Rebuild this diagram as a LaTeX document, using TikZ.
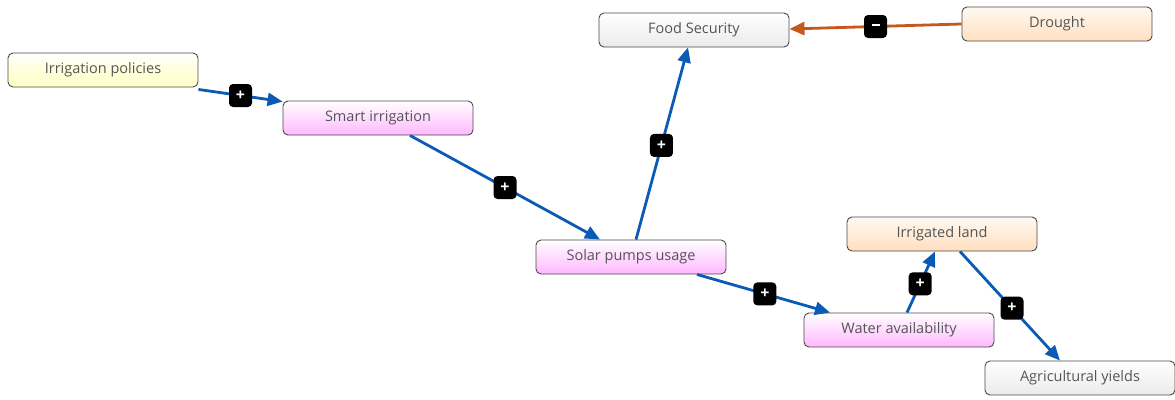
\documentclass[tikz,border=0pt]{standalone}
\usepackage{fontspec}
\setmainfont{Open Sans}
\usetikzlibrary{arrows.meta}
\definecolor{txt}{HTML}{555555}
\definecolor{edgeblue}{HTML}{0B5BB5}
\definecolor{edgeorange}{HTML}{C5581C}
\definecolor{boxline}{HTML}{4A4A4A}
\tikzset{
  box/.style={draw=boxline, line width=0.9pt, rounded corners=5pt, minimum width=190pt, minimum height=34pt, inner sep=0pt, text=txt, font=\fontsize{14.5}{16}\selectfont},
  yellowbox/.style={box, top color=white, bottom color=yellow!22, middle color=yellow!14},
  pinkbox/.style={box, top color=white, bottom color=magenta!28},
  greybox/.style={box, top color=white, bottom color=black!8},
  peachbox/.style={box, top color=white!60!orange!12, bottom color=orange!25},
  link/.style={line width=2.8pt, edgeblue, -{Triangle[length=15pt,width=13pt]}},
  neglink/.style={link, edgeorange},
  sign/.style={fill=black, rounded corners=4pt, minimum size=23pt, inner sep=0pt, text=white, font=\fontsize{16}{16}\selectfont\bfseries},
}
\begin{document}
\begin{tikzpicture}[x=1pt,y=-1pt]
\useasboundingbox (0,0) rectangle (1175,399);
\node[yellowbox] (ip) at (103,70) {Irrigation policies};
\node[pinkbox]   (sm) at (378,118) {Smart irrigation};
\node[greybox]   (fs) at (694,30) {Food Security};
\node[peachbox]  (dr) at (1057,24) {Drought};
\node[pinkbox]   (sp) at (631,257) {Solar pumps usage};
\node[peachbox]  (il) at (942,234) {Irrigated land};
\node[pinkbox]   (wa) at (899,330) {Water availability};
\node[greybox]   (ay) at (1080,378) {Agricultural yields};

\draw[link] ([yshift=-2pt]ip.south east) -- ([yshift=-1pt]sm.north west) node[sign, pos=0.5] (s1) {+};
\draw[link] ([xshift=32pt]sm.south) -- ([xshift=-31pt]sp.north) node[sign, pos=0.5] (s2) {+};
\draw[link] ([xshift=5pt]sp.north) -- ([xshift=-6pt]fs.south) node[sign, pos=0.49] (s3) {+};
\draw[neglink] ([yshift=0pt]dr.west) -- ([yshift=1pt]fs.east) node[sign, pos=0.5] (s4) {\rule[0.3ex]{8pt}{2pt}};
\draw[link] ([xshift=66pt]sp.south) -- ([xshift=-69pt]wa.north) node[sign, pos=0.51] (s5) {+};
\draw[link] ([xshift=8pt]wa.north) -- ([xshift=-7pt]il.south) node[sign, pos=0.47] (s6) {+};
\draw[link] ([xshift=18pt]il.south) -- ([xshift=-20pt]ay.north) node[sign, pos=0.52] (s7) {+};
\end{tikzpicture}
\end{document}
